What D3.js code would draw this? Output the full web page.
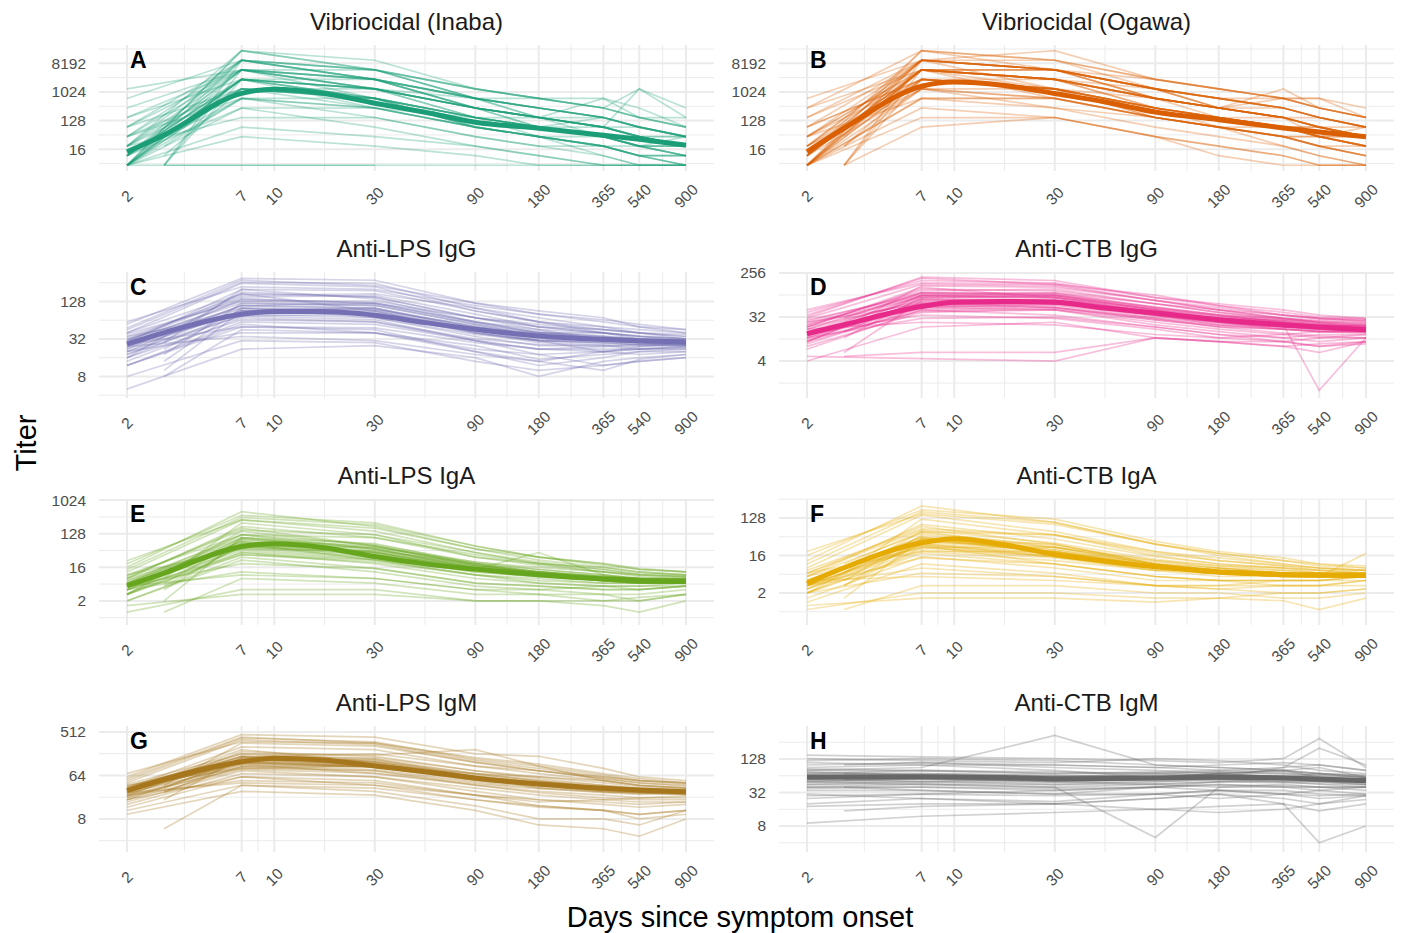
<!DOCTYPE html>
<html><head><meta charset="utf-8">
<script src="https://cdn.jsdelivr.net/npm/d3@7"></script>
<style>body{margin:0;background:#fff;} svg{display:block;font-family:"Liberation Sans",Arial,Helvetica,sans-serif;}</style>
</head><body><svg id="chart" width="1404" height="933"></svg>
<script>
// ---------------- DATA ----------------
const visitDays = [2, 3, 7, 30, 90, 180, 365, 540, 900];
const meanDays = [2, 3, 7, 10, 17, 30, 52, 90, 180, 365, 540, 900];
const xTicks = [2, 7, 10, 30, 90, 180, 365, 540, 900];
const panelTitles = ["Vibriocidal (Inaba)", "Vibriocidal (Ogawa)", "Anti-LPS IgG", "Anti-CTB IgG", "Anti-LPS IgA", "Anti-CTB IgA", "Anti-LPS IgM", "Anti-CTB IgM"];
const panelLetters = ["A", "B", "C", "D", "E", "F", "G", "H"];
const panelColors = ["#1b9e77", "#d95f02", "#7570b3", "#e7298a", "#66a61e", "#e6ab02", "#a6761d", "#666666"];
const yTicksInaba = [16, 128, 1024, 8192];
const yTicksOgawa = [16, 128, 1024, 8192];
const yTicksLpsIgG = [8, 32, 128];
const yTicksCtbIgG = [4, 32, 256];
const yTicksLpsIgA = [2, 16, 128, 1024];
const yTicksCtbIgA = [2, 16, 128];
const yTicksLpsIgM = [8, 64, 512];
const yTicksCtbIgM = [8, 32, 128];

// fitted mean titers at meanDays
const meanInaba = [13.2, 45, 929, 1243, 929, 452, 234, 114, 73.5, 44.3, 33.1, 21.4];
const meanOgawa = [13.2, 73.5, 1552, 2105, 1663, 910, 495, 239, 137, 75, 55.7, 39.4];
const meanLpsIgG = [26.4, 40.5, 79.9, 88, 88, 76.6, 58.5, 45.9, 35.8, 31.6, 29.9, 28.6];
const meanCtbIgG = [14.5, 22.2, 52.7, 64, 66.7, 64, 48.8, 38.6, 28.2, 22.3, 20, 17.5];
const meanLpsIgA = [5.1, 11.2, 58, 68.6, 54.6, 31.1, 19.8, 14.3, 10.1, 7.8, 7.1, 6.6];
const meanCtbIgA = [3.4, 8.1, 32.4, 40.5, 29.4, 16.9, 11.7, 8.6, 6.3, 5.6, 5.35, 5.3];
const meanLpsIgM = [30.9, 53.4, 123.6, 146, 134, 101, 76.6, 56.1, 42.5, 34.8, 32, 29.4];
const meanCtbIgM = [60.1, 60.5, 61.4, 61, 59.7, 56.5, 57.3, 58.5, 60.1, 58.5, 55.7, 52];

// individual titers at visitDays (null = no sample)
const indivInaba = [
 [10,null,2560,640,160,80,40,20,20],[5,null,5120,1280,320,160,80,40,20],[20,null,10240,2560,640,320,160,80,40],
 [5,null,1280,320,80,40,20,20,10],[40,null,5120,2560,320,160,80,40,40],[null,5,2560,640,80,40,20,10,10],
 [5,null,640,160,40,20,10,5,5],[80,null,10240,5120,1280,640,320,160,80],[10,null,320,80,20,10,5,5,5],
 [5,null,20480,5120,640,320,160,80,40],[160,null,2560,1280,320,160,80,1280,160],[5,null,80,40,20,10,5,5,5],
 [null,5,5120,1280,160,80,160,null,null],[1280,null,5120,2560,640,320,160,80,40],[20,null,1280,640,160,80,40,40,20],
 [5,null,5,5,5,5,5,5,5],[null,5,5,5,null,null,null,null,null],[40,null,640,320,160,160,80,40,40],
 [10,null,2560,1280,320,80,40,20,10],[5,null,10240,2560,320,160,40,20,10],[320,null,5120,1280,320,160,640,160,80],
 [null,10,1280,640,80,40,20,10,5],[20,null,160,160,40,20,20,10,10],[5,null,2560,2560,640,160,80,40,20],
 [10,null,5120,640,160,40,20,10,5],[640,null,10240,5120,1280,640,320,160,160],[5,null,20480,10240,1280,640,640,320,80],
 [80,null,1280,640,160,80,40,20,40],[null,40,2560,1280,320,160,80,null,null],[5,null,40,20,10,5,5,5,5],
 [10,null,640,320,80,40,40,20,20],[160,null,5120,5120,640,640,320,1280,320],[20,null,2560,320,80,40,10,5,5],
 [10,null,5120,2560,320,160,80,40,20],[5,null,2560,1280,320,80,80,40,20],[20,null,5120,1280,160,80,40,20,20],
 [null,5,10240,2560,640,320,160,80,40],[40,null,1280,1280,320,160,80,80,40],[5,null,2560,640,160,80,40,20,10],
 [10,null,10240,5120,640,320,160,80,40],[null,20,640,640,160,80,40,40,20],[80,null,5120,2560,640,160,160,80,40],
 [5,null,1280,640,80,40,20,10,10],[20,null,20480,5120,1280,640,320,160,80],[10,null,2560,1280,640,320,160,null,null],
 [5,null,320,320,80,40,20,10,5],[40,null,10240,2560,320,160,80,40,20]
];
const indivOgawa = [
 [10,null,5120,2560,640,320,160,80,40],[5,null,2560,1280,320,160,80,40,40],[20,null,10240,5120,1280,640,320,160,80],
 [5,null,1280,640,160,80,40,40,20],[40,null,5120,5120,640,320,160,80,80],[null,5,2560,1280,320,160,80,40,20],
 [5,null,640,320,160,80,40,20,10],[160,null,10240,10240,2560,1280,640,320,160],[10,null,1280,320,80,40,20,10,5],
 [5,null,20480,5120,1280,640,320,160,80],[320,null,5120,2560,640,320,640,320,160],[5,null,160,160,40,20,10,5,5],
 [null,5,5120,2560,320,160,160,null,null],[640,null,10240,5120,1280,640,320,160,80],[20,null,2560,1280,320,160,80,80,40],
 [null,5,80,160,40,20,10,5,5],[80,null,2560,1280,640,320,160,80,40],[10,null,5120,2560,640,160,80,40,20],
 [5,null,10240,5120,640,320,160,40,20],[160,null,5120,2560,640,320,1280,320,160],[null,20,2560,1280,160,80,40,20,10],
 [40,null,640,640,160,80,40,40,20],[5,null,5120,5120,1280,320,160,80,40],[10,null,10240,1280,320,80,40,20,10],
 [320,null,20480,10240,2560,1280,640,320,160],[5,null,10240,20480,2560,1280,640,640,160],[80,null,2560,1280,320,160,80,40,80],
 [null,40,5120,2560,640,320,160,null,null],[5,null,320,160,40,10,5,5,5],[20,null,1280,640,160,80,80,40,20],
 [40,null,5120,5120,1280,640,640,640,320],[10,null,5120,640,160,80,20,10,5],
 [10,null,10240,5120,1280,640,320,160,80],[5,null,5120,2560,640,320,160,80,40],[20,null,5120,2560,320,160,80,40,40],
 [null,5,10240,5120,1280,320,160,80,40],[40,null,2560,2560,640,320,160,160,80],[5,null,5120,1280,320,160,80,40,20],
 [10,null,20480,10240,1280,640,320,160,80],[null,20,1280,1280,320,160,80,80,40],[80,null,10240,5120,1280,320,320,160,80],
 [5,null,2560,1280,160,80,40,20,20],[20,null,10240,5120,2560,1280,640,320,160],[10,null,5120,2560,1280,640,320,null,null],
 [5,null,640,640,160,80,40,20,10],[40,null,10240,5120,640,320,160,80,40]
];
const indivLpsIgG = [
 [24,null,110,100,50,35,30,28,26],[16,null,180,150,70,45,40,35,30],[40,null,250,220,90,60,45,40,32],
 [12,null,60,55,30,22,20,22,24],[null,10,90,80,40,30,28,26,25],[30,null,150,160,80,50,40,32,30],
 [20,null,40,40,25,15,18,20,22],[55,null,300,280,120,90,70,50,40],[8,null,30,28,14,10,12,14,16],
 [28,null,200,140,60,40,35,30,28],[null,18,120,110,55,35,30,30,30],[35,null,80,90,45,40,40,35,32],
 [14,null,70,60,30,18,20,18,20],[45,null,260,250,100,70,50,45,40],[22,null,140,120,60,45,30,28,26],
 [5,null,22,25,16,8,14,16,18],[null,28,200,190,90,60,50,40,35],[18,null,100,70,35,25,25,22,24],
 [32,null,160,170,100,60,40,35,32],[26,null,50,45,20,12,16,20,20],[60,null,220,200,110,80,60,50,45],
 [16,null,90,100,45,30,20,24,28],[null,8,45,40,20,14,10,15,18],[38,null,130,130,70,50,45,40,35],
 [20,null,75,65,30,22,24,26,25],[48,null,280,230,120,80,65,55,45],[12,null,55,40,22,18,12,14,16],
 [30,null,170,90,40,30,30,28,27],[null,40,110,120,70,55,45,40,38],[24,null,35,30,18,14,20,22,22],
 [22,null,90,85,45,32,30,28,28],[30,null,120,110,55,40,35,32,30],[18,null,75,80,40,28,26,26,26],
 [null,14,100,95,50,38,32,30,28],[35,null,140,120,60,42,36,32,30],[26,null,80,70,38,30,28,28,27],
 [20,null,110,100,48,34,30,30,29],[null,22,95,90,45,34,30,29,28],[28,null,130,115,58,40,34,31,30],
 [16,null,65,60,32,26,25,24,25],[40,null,170,150,70,50,40,36,32],[24,null,85,80,42,30,28,26,26],
 [32,null,100,95,52,38,33,30,29],[12,null,50,48,28,22,22,22,23]
];
const indivCtbIgG = [
 [14,null,60,60,35,25,20,18,17],[10,null,90,80,40,28,22,20,18],[30,null,150,140,70,45,30,25,22],
 [8,null,40,45,25,18,14,12,14],[null,6,70,70,35,22,20,18,16],[20,null,120,110,60,40,28,24,20],
 [5,null,4.5,4,12,10,10,8,10],[40,null,180,160,80,60,45,35,30],[12,null,30,32,20,14,12,10,12],
 [18,null,100,90,50,35,25,20,18],[null,12,80,85,45,30,22,1,12],[25,null,60,70,40,30,28,26,24],
 [9,null,50,45,22,16,12,14,14],[35,null,200,150,70,50,35,30,28],[16,null,75,65,35,25,18,16,15],
 [4,null,20,25,12,10,8,9,10],[null,20,140,130,70,45,30,25,22],[12,null,65,50,30,20,15,13,12],
 [22,null,110,120,60,40,30,28,26],[15,null,35,30,18,12,10,12,12],[45,null,160,150,90,55,40,32,30],
 [10,null,85,90,45,25,20,20,22],[null,5,6,6,12,10,8,6,10],[28,null,90,100,50,35,30,26,24],
 [14,null,55,50,28,20,18,16,16],[32,null,210,180,80,55,35,30,26],[7,null,45,35,20,14,10,8,9],
 [20,null,130,80,40,28,22,20,18],[null,30,100,100,60,45,35,30,28],[18,null,25,22,14,12,14,16,16],
 [14,null,55,60,38,28,22,20,18],[18,null,70,70,40,30,24,22,20],[12,null,50,55,32,24,20,18,17],
 [null,16,75,75,42,30,24,21,19],[22,null,80,85,45,32,26,22,20],[15,null,60,62,36,26,21,19,17],
 [10,null,45,50,30,22,18,17,16],[null,25,90,90,48,34,26,23,21],[20,null,65,70,42,30,24,21,19],
 [13,null,52,58,34,25,20,18,17],[26,null,100,95,52,36,27,24,21],[16,null,58,62,37,27,22,20,18],
 [24,null,85,80,46,33,25,22,20],[11,null,42,46,28,21,18,16,16]
];
const indivLpsIgA = [
 [5,null,80,40,14,10,7,6,6],[3,null,150,60,20,12,8,7,7],[12,null,300,150,40,20,14,10,9],
 [2,null,30,15,6,5,4,4,5],[null,2,100,50,16,10,7,6,6],[8,null,200,100,30,18,12,9,8],
 [1.5,null,3,3,2,2,2,2.5,3],[20,null,400,250,60,30,20,14,12],[4,null,12,8,4,3,3,3,4],
 [6,null,120,50,15,12,8,7,7],[null,5,60,40,14,40,10,8,7],[10,null,50,45,20,14,10,8,8],
 [3,null,40,20,8,6,5,4,5],[16,null,500,200,50,25,16,12,10],[6,null,90,60,18,12,9,8,8],
 [1,null,4,4,2,2,1.5,1,2],[null,8,250,120,30,20,12,10,9],[4,null,70,25,10,6,5,5,5],
 [9,null,160,120,40,22,14,11,10],[5,null,20,15,6,5,4,4,5],[24,null,300,180,50,30,20,15,12],
 [3,null,100,70,20,10,7,7,8],[null,1,8,6,3,3,2,2,3],[7,null,60,55,22,16,12,10,9],
 [4,null,35,25,10,7,6,6,6],[14,null,350,220,60,30,18,14,12],[2,null,25,12,5,4,3,2,3],
 [8,null,180,60,18,12,9,8,8],[null,12,120,100,35,20,16,12,10],[5,null,10,8,4,4,5,5,6],
 [5,null,60,35,15,10,8,7,7],[4,null,80,45,18,11,8,7,7],[6,null,50,30,14,10,8,7,6],
 [null,4,70,40,16,11,8,7,7],[7,null,100,55,20,12,9,8,7],[5,null,45,28,12,9,7,6,6],
 [3,null,55,32,14,10,7,6,6],[null,6,90,50,18,12,9,8,7],[8,null,65,40,16,11,8,7,7],
 [4,null,40,26,12,9,7,6,6],[10,null,120,65,22,14,10,8,8],[5,null,58,36,15,10,8,7,7],
 [6,null,75,42,17,11,8,7,7],[3,null,35,22,10,8,6,6,6]
];
const indivCtbIgA = [
 [3,null,30,15,8,6,5,5,5],[2,null,60,25,10,7,6,5,5],[8,null,150,60,20,12,9,7,7],
 [1.5,null,15,8,4,4,4,4,4],[null,1.5,40,20,8,6,5,5,5],[5,null,90,40,15,10,8,6,6],
 [1,null,1.5,1.5,1.2,1.5,2,2,2.5],[16,null,200,120,35,20,14,10,8],[3,null,8,5,3,3,3,3,3],
 [4,null,45,18,8,6,5,5,6],[null,3,25,15,7,8,6,5,5],[6,null,20,20,10,8,7,6,6],
 [2,null,18,10,5,4,3,3,4],[12,null,250,100,30,18,12,9,8],[4,null,35,25,10,7,6,6,6],
 [0.8,null,2,2,1.5,1.5,1.3,0.8,1.5],[null,6,120,50,16,10,8,7,6],[3,null,28,10,5,4,4,4,5],
 [7,null,70,50,18,12,9,8,7],[2,null,6,5,3,2.5,3,3,4],[20,null,160,90,30,18,12,10,9],
 [2.5,null,40,30,10,6,5,5,18],[null,0.8,3,3,2,2,1.5,1.5,2],[5,null,25,25,12,9,8,7,6],
 [3,null,14,10,5,4,4,4,5],[10,null,180,100,30,16,10,8,7],[1.2,null,10,6,3,2.5,2,2,2.5],
 [6,null,80,30,10,7,6,5,5],[null,10,60,50,20,14,10,8,7],[4,null,5,4,3,3,4,4,5],
 [3,null,32,18,9,7,6,5,5],[4,null,45,22,10,7,6,5,5],[2.5,null,28,16,8,6,5,5,5],
 [null,3,40,20,9,7,6,5,5],[5,null,55,28,12,8,6,6,5],[3,null,25,15,8,6,5,5,5],
 [2,null,30,17,8,6,5,5,5],[null,4,50,25,11,8,6,6,5],[4,null,35,20,9,7,6,5,5],
 [2.5,null,22,14,7,6,5,5,5],[6,null,65,32,13,9,7,6,6],[3.5,null,38,20,9,7,6,5,5],
 [4,null,42,22,10,7,6,6,5],[2,null,20,12,7,5,5,5,5]
];
const indivLpsIgM = [
 [30,null,120,100,60,45,35,30,28],[24,null,200,160,80,55,40,35,30],[45,null,350,280,120,80,55,45,40],
 [16,null,70,60,35,25,20,18,18],[null,20,150,130,70,50,35,30,28],[35,null,250,220,100,70,50,40,35],
 [12,null,40,30,15,8,8,6,12],[60,null,450,400,180,160,90,60,50],[20,null,60,50,25,15,12,8,10],
 [28,null,160,120,60,40,30,28,26],[null,30,100,100,55,45,35,30,30],[40,null,90,100,70,60,50,40,35],
 [18,null,80,60,30,20,16,14,16],[55,null,400,300,130,90,60,50,45],[26,null,140,110,55,40,32,30,28],
 [10,null,30,25,12,6,5,3.5,8],[null,40,300,260,120,80,55,45,38],[22,null,110,70,40,28,22,20,20],
 [32,null,180,170,220,100,50,40,35],[25,null,50,45,25,20,18,16,18],[70,null,320,300,150,110,70,55,45],
 [20,null,130,140,60,35,28,26,28],[null,5,40,35,20,14,12,10,12],[38,null,150,150,80,60,45,38,32],
 [24,null,90,80,40,30,25,22,22],[50,null,380,320,140,100,65,50,42],[14,null,60,40,20,15,12,10,12],
 [30,null,220,120,60,40,30,28,26],[null,50,160,180,100,80,60,50,45],[28,null,45,40,25,18,20,22,24],
 [30,null,120,100,55,42,34,30,29],[26,null,140,110,60,45,36,32,30],[34,null,110,95,52,40,33,30,29],
 [null,28,130,105,58,43,35,31,29],[38,null,160,125,65,48,38,33,31],[28,null,100,85,48,38,32,29,28],
 [24,null,115,95,52,40,33,30,28],[null,35,150,120,62,46,36,32,30],[32,null,125,105,56,42,34,31,29],
 [22,null,95,80,45,36,30,28,27],[42,null,180,140,70,50,40,34,31],[30,null,118,98,54,41,34,30,29],
 [36,null,135,110,58,44,35,31,30],[20,null,85,72,42,34,29,27,26]
];
const indivCtbIgM = [
 [60,null,60,55,60,60,60,55,55],[100,null,110,100,90,100,110,100,80],[40,null,45,40,45,40,40,35,40],
 [120,null,130,120,100,90,80,70,60],[null,70,70,65,60,70,60,60,55],[25,null,30,28,30,35,35,30,28],
 [9,null,12,14,16,14,16,20,24],[80,null,90,340,100,90,80,70,60],[50,null,45,40,5,40,45,40,40],
 [150,null,140,130,120,110,130,300,90],[null,40,35,30,40,50,50,45,40],[70,null,80,75,70,65,60,70,65],
 [30,null,25,20,25,30,20,4,8],[90,null,100,100,90,80,90,100,80],[55,null,50,55,60,70,80,90,60],
 [18,null,20,20,25,30,25,20,28],[null,100,110,90,80,70,60,55,50],[45,null,50,45,50,55,50,50,45],
 [130,null,120,110,130,120,100,80,70],[35,null,35,30,30,25,30,35,30],[65,null,60,60,70,75,70,65,60],
 [20,null,25,22,30,35,30,25,28],[null,15,18,20,16,18,20,15,20],[85,null,80,70,75,80,75,70,65],
 [40,null,40,35,40,45,40,40,35],[110,null,100,80,60,70,80,60,50],[28,null,30,35,40,35,30,28,30],
 [75,null,65,60,55,60,90,200,100],[null,55,60,50,45,50,55,50,45],[50,null,55,50,55,60,60,55,55],
 [58,null,60,56,58,60,58,56,54],[66,null,65,60,62,64,62,58,55],[52,null,55,52,55,58,56,52,50],
 [null,62,62,58,60,62,60,56,52],[72,null,70,64,66,68,64,60,56],[48,null,50,48,50,54,52,50,48],
 [60,null,58,54,56,58,56,54,52],[null,56,58,55,58,60,58,55,52],[64,null,62,58,60,62,60,57,54],
 [44,null,46,44,46,50,48,46,44],[80,null,78,70,72,74,70,64,60],[54,null,56,52,54,57,55,52,50],
 [68,null,66,62,64,66,63,59,56],[38,null,40,38,40,44,42,40,40]
];

// ---------------- LAYOUT ----------------
const panels = [
 {ticks: yTicksInaba, mean: meanInaba, indiv: indivInaba, lo: 1.72, hi: 14.92},
 {ticks: yTicksOgawa, mean: meanOgawa, indiv: indivOgawa, lo: 1.72, hi: 14.92},
 {ticks: yTicksLpsIgG, mean: meanLpsIgG, indiv: indivLpsIgG, lo: 1.85, hi: 8.57},
 {ticks: yTicksCtbIgG, mean: meanCtbIgG, indiv: indivCtbIgG, lo: -0.52, hi: 8.07},
 {ticks: yTicksLpsIgA, mean: meanLpsIgA, indiv: indivLpsIgA, lo: -1.15, hi: 10.1},
 {ticks: yTicksCtbIgA, mean: meanCtbIgA, indiv: indivCtbIgA, lo: -1.56, hi: 8.52},
 {ticks: yTicksLpsIgM, mean: meanLpsIgM, indiv: indivLpsIgM, lo: 0.72, hi: 9.41},
 {ticks: yTicksCtbIgM, mean: meanCtbIgM, indiv: indivCtbIgM, lo: 1.45, hi: 8.97}
];
const colLeft = [99, 779], panelW = 615, pad = 28;
const rowTop = [45, 272, 499, 726], panelH = 126;

const svg = d3.select("#chart");
const defs = svg.append("defs");

panels.forEach((p, i) => {
  const col = i % 2, row = Math.floor(i / 2);
  const L = colLeft[col], T = rowTop[row], R = L + panelW, B = T + panelH;
  const x = d3.scaleLog().domain([2, 900]).range([L + pad, R - pad]);
  const y = d3.scaleLog().base(2).domain([Math.pow(2, p.lo), Math.pow(2, p.hi)]).range([B, T]);
  const g = svg.append("g");
  const color = panelColors[i];

  // grid: minor
  const xMinor = d3.pairs(xTicks).map(([a, b]) => Math.sqrt(a * b));
  const ratio = p.ticks[1] / p.ticks[0];
  const yAll = [p.ticks[0] / ratio].concat(p.ticks, [p.ticks[p.ticks.length - 1] * ratio]);
  const yMinor = d3.pairs(yAll).map(([a, b]) => Math.sqrt(a * b))
      .filter(v => Math.log2(v) >= p.lo && Math.log2(v) <= p.hi);
  g.selectAll(".vmin").data(xMinor).join("line")
    .attr("x1", d => x(d)).attr("x2", d => x(d)).attr("y1", T).attr("y2", B)
    .attr("stroke", "#ebebeb").attr("stroke-width", 1);
  g.selectAll(".hmin").data(yMinor).join("line")
    .attr("x1", L).attr("x2", R).attr("y1", d => y(d)).attr("y2", d => y(d))
    .attr("stroke", "#ebebeb").attr("stroke-width", 1);
  // grid: major
  g.selectAll(".vmaj").data(xTicks).join("line")
    .attr("x1", d => x(d)).attr("x2", d => x(d)).attr("y1", T).attr("y2", B)
    .attr("stroke", "#ebebeb").attr("stroke-width", 2);
  g.selectAll(".hmaj").data(p.ticks).join("line")
    .attr("x1", L).attr("x2", R).attr("y1", d => y(d)).attr("y2", d => y(d))
    .attr("stroke", "#ebebeb").attr("stroke-width", 2);

  // clip
  defs.append("clipPath").attr("id", "clip" + i).append("rect")
    .attr("x", L).attr("y", T).attr("width", panelW).attr("height", panelH);
  const plot = g.append("g").attr("clip-path", `url(#clip${i})`);

  const line = d3.line().x(d => x(d[0])).y(d => y(d[1]));
  plot.selectAll(".ind").data(p.indiv).join("path")
    .attr("d", r => line(visitDays.map((d, k) => [d, r[k]]).filter(q => q[1] != null)))
    .attr("fill", "none").attr("stroke", color).attr("stroke-width", 1.7).attr("stroke-opacity", 0.3);

  const meanLine = d3.line().x(d => x(d[0])).y(d => y(d[1])).curve(d3.curveMonotoneX);
  plot.append("path")
    .attr("d", meanLine(meanDays.map((d, k) => [d, p.mean[k]])))
    .attr("fill", "none").attr("stroke", color).attr("stroke-width", 5);

  // axes text
  g.selectAll(".yt").data(p.ticks).join("text")
    .attr("x", L - 13).attr("y", d => y(d)).attr("dy", "0.35em")
    .attr("text-anchor", "end").attr("font-size", 15.5).attr("fill", "#4d4d4d")
    .text(d => d);
  g.selectAll(".xt").data(xTicks).join("text")
    .attr("transform", d => `translate(${x(d)},${B + 25}) rotate(-45)`)
    .attr("text-anchor", "middle").attr("dy", "0.35em")
    .attr("font-size", 15.5).attr("fill", "#4d4d4d")
    .text(d => d);

  g.append("text").attr("x", (L + R) / 2).attr("y", T - 15)
    .attr("text-anchor", "middle").attr("font-size", 24).attr("fill", "#1a1a1a")
    .text(panelTitles[i]);
  g.append("text").attr("x", L + 31).attr("y", T + 23)
    .attr("font-size", 23).attr("font-weight", "bold").attr("fill", "#000")
    .text(panelLetters[i]);
});

svg.append("text").attr("transform", "translate(36,443) rotate(-90)")
  .attr("text-anchor", "middle").attr("font-size", 29).attr("fill", "#000").text("Titer");
svg.append("text").attr("x", 740).attr("y", 927)
  .attr("text-anchor", "middle").attr("font-size", 29).attr("fill", "#000").text("Days since symptom onset");
</script></body></html>
